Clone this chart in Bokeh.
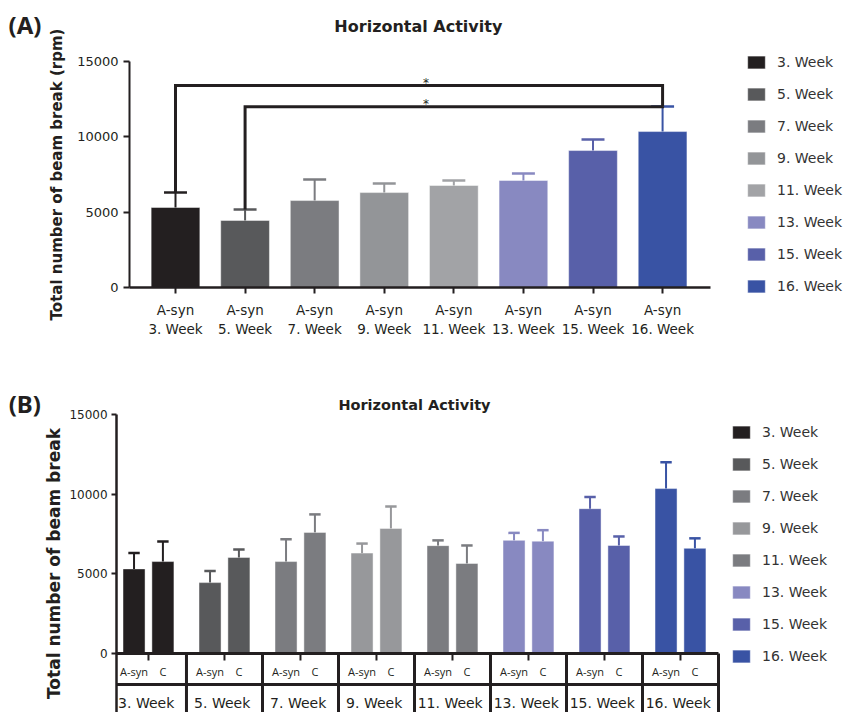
from bokeh.plotting import figure
from bokeh.models import (Range1d, FixedTicker, Legend, LegendItem, Label,
                          ColumnDataSource)
from bokeh.layouts import column
from bokeh.embed import file_html
from bokeh.resources import INLINE
from bokeh.core.properties import value
import numpy as np

# ---------------- data ----------------
weeks = ["3. Week", "5. Week", "7. Week", "9. Week",
         "11. Week", "13. Week", "15. Week", "16. Week"]
groups = ["A-syn", "C"]
asyn_mean = [5310, 4450, 5770, 6300, 6770, 7100, 9090, 10350]
asyn_err = [990, 730, 1400, 600, 330, 470, 730, 1660]
ctrl_mean = [5770, 6030, 7600, 7850, 5650, 7050, 6780, 6600]
ctrl_err = [1260, 500, 1130, 1380, 1130, 690, 565, 628]
y_ticks = [0, 5000, 10000, 15000]
colors_a = ["#231F20", "#58595B", "#7B7C80", "#939598",
            "#A2A3A6", "#8889C1", "#5860A9", "#3953A4"]
colors_b = ["#231F20", "#58595B", "#7B7C80", "#97989B",
            "#7B7C80", "#8889C1", "#5860A9", "#3953A4"]
sig_pairs = [(0, 7), (1, 7)]
sig_levels = [13400, 12000]
sig_marks = ["*", "*"]

INK = "#231F20"
FONT = "DejaVu Sans"
W = 843


def base_fig(h, xr, yr):
    p = figure(width=W, height=h, output_backend="svg", toolbar_location=None,
               x_range=Range1d(*xr), y_range=Range1d(*yr),
               min_border_left=0, min_border_right=0,
               min_border_top=0, min_border_bottom=0)
    p.xgrid.visible = False
    p.ygrid.visible = False
    p.outline_line_color = None
    p.background_fill_color = "white"
    p.border_fill_color = "white"
    return p


def style_axis(ax, ticks, size, tick_out, lw):
    ax.ticker = FixedTicker(ticks=ticks)
    ax.minor_tick_line_color = None
    ax.axis_line_width = lw
    ax.axis_line_color = INK
    ax.major_tick_line_color = INK
    ax.major_tick_line_width = 2
    ax.major_tick_in = 0
    ax.major_tick_out = tick_out
    ax.major_label_text_font = FONT
    ax.major_label_text_font_size = size
    ax.major_label_text_color = INK
    ax.axis_label_text_font = FONT
    ax.axis_label_text_font_style = "bold"
    ax.axis_label_text_color = INK


def make_legend(renderer, loc):
    items = [LegendItem(label=w, renderers=[renderer], index=i)
             for i, w in enumerate(weeks)]
    return Legend(items=items, location=loc, orientation="vertical",
                  glyph_width=22, glyph_height=16, label_height=16,
                  spacing=16, padding=0, margin=0, label_standoff=10,
                  label_text_font=FONT, label_text_font_size="14px",
                  label_text_color="#333333", border_line_color=None,
                  background_fill_alpha=0)


BAR_EDGE = dict(line_color="white", line_alpha=0.45, line_width=1)

# ---------------- panel A ----------------
xa = np.arange(len(weeks), dtype=float)
ax_left_A, ax_right_A = -0.661, 7.69
pA = base_fig(360, (-2.515, 9.600), (-4845, 19049))

ya = pA.yaxis[0]
style_axis(ya, y_ticks, "13px", 6, 2)
ya.fixed_location = ax_left_A
ya.bounds = (0, 15000)
ya.axis_label = "Total number of beam break (rpm)"
ya.axis_label_text_font_size = "15px"
ya.major_label_standoff = 5
ya.axis_label_standoff = 8

xax = pA.xaxis[0]
style_axis(xax, list(xa), "13.5px", 6, 2.5)
xax.fixed_location = 0
xax.bounds = (ax_left_A, ax_right_A)
xax.major_label_overrides = {i: "A-syn\n" + w for i, w in enumerate(weeks)}
xax.major_label_standoff = 8

srcA = ColumnDataSource(dict(x=xa, top=asyn_mean, color=colors_a,
                             etop=np.array(asyn_mean) + np.array(asyn_err)))
barsA = pA.vbar(x="x", top="top", width=0.70, bottom=0, fill_color="color",
                source=srcA, **BAR_EDGE)
pA.segment(x0="x", x1="x", y0="top", y1="etop", line_color="color",
           line_width=2, source=srcA)
capA = 0.33
pA.segment(x0=xa - capA / 2, x1=xa + capA / 2,
           y0=srcA.data["etop"], y1=srcA.data["etop"],
           line_color=colors_a, line_width=2.5)

etopA = srcA.data["etop"]
bx, by = [], []
for (a, b), lev in zip(sig_pairs, sig_levels):
    bx.append([a, a, b, b])
    by.append([etopA[a], lev, lev, etopA[b]])
pA.multi_line(xs=bx, ys=by, line_color=INK, line_width=3, line_join="miter")
for (a, b), lev, m in zip(sig_pairs, sig_levels, sig_marks):
    pA.add_layout(Label(x=3.6, y=lev + 150, text=m, text_font=FONT,
                        text_font_size="12px", text_color=INK,
                        text_align="center", text_baseline="middle"))

pA.add_layout(Label(x=3.49, y=17323, text="Horizontal Activity", text_font=FONT,
                    text_font_size="16px", text_font_style="bold",
                    text_color=INK, text_align="center", text_baseline="middle"))
pA.add_layout(Label(x=-2.40, y=17455, text="(A)", text_font="Noto Sans",
                    text_font_size="24px", text_font_style="bold",
                    text_color=INK, text_align="left", text_baseline="middle"))
pA.add_layout(make_legend(barsA, (745, 66)), "center")

# ---------------- panel B ----------------
off = 0.19
xb_a = xa - off
xb_c = xa + off
ax_left_B, ax_right_B = -0.42, 7.5
y_bottom = -3703
row_split = -1946
pB = base_fig(352, (-1.947, 9.145), (y_bottom, 18389))
pB.xaxis.visible = False

yb = pB.yaxis[0]
style_axis(yb, y_ticks, "12px", 5, 2.5)
yb.fixed_location = ax_left_B
yb.bounds = (y_bottom, 15000)
yb.axis_label = "Total number of beam break"
yb.axis_label_text_font_size = "17px"
yb.major_label_standoff = 4
yb.axis_label_standoff = 2

srcBa = ColumnDataSource(dict(x=xb_a, top=asyn_mean, color=colors_b,
                              etop=np.array(asyn_mean) + np.array(asyn_err)))
srcBc = ColumnDataSource(dict(x=xb_c, top=ctrl_mean, color=colors_b,
                              etop=np.array(ctrl_mean) + np.array(ctrl_err)))
capB = 0.15
barsB = None
for src in (srcBa, srcBc):
    r = pB.vbar(x="x", top="top", width=0.29, bottom=0, fill_color="color",
                source=src, **BAR_EDGE)
    if barsB is None:
        barsB = r
    pB.segment(x0="x", x1="x", y0="top", y1="etop", line_color="color",
               line_width=2, source=src)
    pB.segment(x0=src.data["x"] - capB / 2, x1=src.data["x"] + capB / 2,
               y0=src.data["etop"], y1=src.data["etop"],
               line_color=colors_b, line_width=2.5)

# category table under the axis
pB.segment(x0=[ax_left_B, ax_left_B], x1=[ax_right_B, ax_right_B],
           y0=[0, row_split], y1=[0, row_split], line_color=INK, line_width=3)
pB.segment(x0=xa + 0.5, x1=xa + 0.5, y0=0, y1=y_bottom, line_color=INK,
           line_width=3)
pB.segment(x0=xa, x1=xa, y0=0, y1=-440, line_color=INK, line_width=2)
pB.text(x=np.concatenate([xb_a, xb_c]), y=-1130,
        text=[groups[0]] * len(weeks) + [groups[1]] * len(weeks),
        text_font=value("Open Sans"), text_font_size="11px", text_color=INK,
        text_align="center", text_baseline="middle")
pB.text(x=xa - 0.03, y=-3138, text=weeks, text_font=value(FONT),
        text_font_size="14px", text_color=INK,
        text_align="center", text_baseline="middle")

pB.add_layout(Label(x=3.5, y=15565, text="Horizontal Activity", text_font=FONT,
                    text_font_size="14.5px", text_font_style="bold",
                    text_color=INK, text_align="center", text_baseline="middle"))
pB.add_layout(Label(x=-1.84, y=15690, text="(B)", text_font="Noto Sans",
                    text_font_size="24px", text_font_style="bold",
                    text_color=INK, text_align="left", text_baseline="middle"))
pB.add_layout(make_legend(barsB, (730, 48)), "center")

layout = column(pA, pB)
open("out.html", "w").write(file_html(layout, INLINE))
